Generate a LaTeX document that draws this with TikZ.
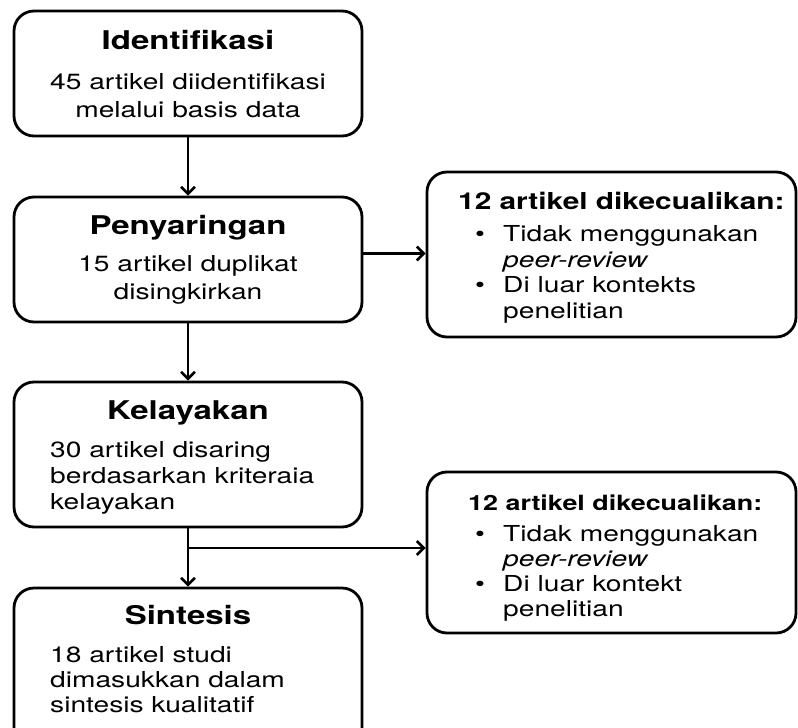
\documentclass[tikz,border=0pt]{standalone}
\usepackage{fontspec}
\setmainfont{TeX Gyre Heros}[FakeStretch=1.28]
\usetikzlibrary{arrows.meta}
\newcommand{\exbul}{\makebox[28pt][l]{\textbullet}}
\newcommand{\exind}{\hspace*{28pt}}

\begin{document}
\begin{tikzpicture}[x=1pt,y=-1pt]
		\tikzset{>={Straight Barb[length=7pt,width=14pt]}}
		\tikzset{box/.style={draw,line width=2.8pt,rounded corners=20pt,inner sep=0pt},
			ttl/.style={font=\bfseries\fontsize{25.8}{30}\selectfont,anchor=base,inner sep=0pt},
			body/.style={font=\fontsize{22}{27}\selectfont,anchor=base,inner sep=0pt},
			flow/.style={->,line width=2.6pt}}
		\useasboundingbox (0,0) rectangle (798,728);
		\clip (0,0) rectangle (798,728);
		
		\node[box,minimum width=348pt,minimum height=125pt] (idf) at (188,73.5) {};
		\node[box,minimum width=348pt,minimum height=125pt] (pen) at (188,259.5) {};
		\node[box,minimum width=348pt,minimum height=145pt] (kel) at (188,454.5) {};
		\node[box,minimum width=348pt,minimum height=160pt] (sin) at (188,668) {};
		\node[box,minimum width=369pt,minimum height=165pt] (exa) at (611.5,254.5) {};
		\node[box,minimum width=369pt,minimum height=161pt] (exb) at (611.5,552.5) {};
		\coordinate (br) at (188,548);
		
		\node[ttl] (idf-t) at (188,49) {Identifikasi};
		\node[body,align=center] (idf-b) at (188,117) {45 artikel diidentifikasi\\[1pt]melalui basis data};
		\node[ttl] (pen-t) at (188,234) {Penyaringan};
		\node[body,align=center] (pen-b) at (188,299) {15 artikel duplikat\\[1pt]disingkirkan};
		\node[ttl] (kel-t) at (188,419) {Kelayakan};
		\node[body,align=left,anchor=base west] (kel-b) at (50,509) {30 artikel disaring\\[-1pt]berdasarkan kriteraia\\[-1pt]kelayakan};
		\node[ttl] (sin-t) at (188,624) {Sintesis};
		\node[body,align=left,anchor=base west] (sin-b) at (50,712) {18 artikel studi\\[-2pt]dimasukkan dalam\\[-2pt]sintesis kualitatif};
		
		\node[ttl,anchor=base west,font=\bfseries\fontsize{23.3}{28}\selectfont] (exa-t) at (458,209) {12 artikel dikecualikan:};
		\node[body,align=left,anchor=base west] (exa-b) at (475,318) {\exbul Tidak menggunakan\\[-1.5pt]\exind\textit{peer-review}\\[-1.5pt]\exbul Di luar kontekts\\[-1.5pt]\exind penelitian};
		\node[ttl,anchor=base west,font=\bfseries\fontsize{21}{26}\selectfont] (exb-t) at (468,510) {12 artikel dikecualikan:};
		\node[body,align=left,anchor=base west] (exb-b) at (475,616) {\exbul Tidak menggunakan\\[-2pt]\exind\textit{peer-review}\\[-2pt]\exbul Di luar kontekt\\[-2pt]\exind penelitian};
		
		\draw[flow] (idf) -- (pen);
		\draw[flow] (pen) -- (kel);
		\draw[flow] (kel) -- (sin);
		\draw[flow] ([yshift=6pt]pen.east) -- ([yshift=6pt]pen.east -| exa.west);
		\draw[flow] (br) -- (br -| exb.west);
		
\end{tikzpicture}
\end{document}
